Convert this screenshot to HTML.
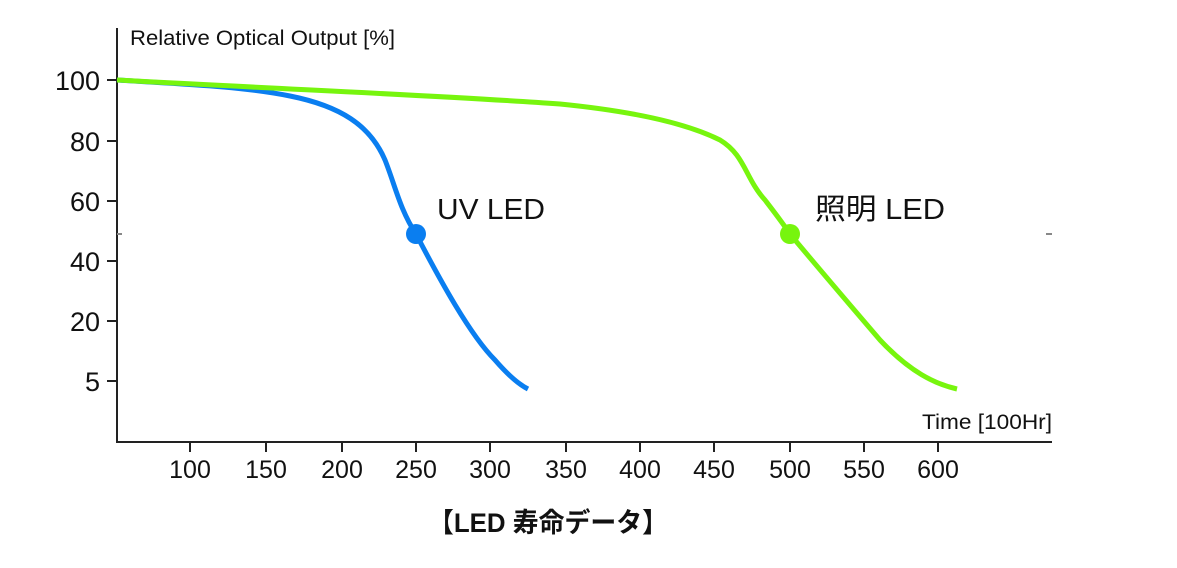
<!DOCTYPE html>
<html><head><meta charset="utf-8"><style>
html,body{margin:0;padding:0;background:#fff;width:1177px;height:568px;overflow:hidden}
text{font-family:"Liberation Sans","Noto Sans CJK JP",sans-serif;fill:#111}
</style></head><body>
<svg width="1177" height="568" viewBox="0 0 1177 568" xmlns="http://www.w3.org/2000/svg">
<g stroke="#222" stroke-width="2" fill="none">
<line x1="117" y1="28" x2="117" y2="443"/>
<line x1="116" y1="442" x2="1052" y2="442"/>
<line x1="107" y1="80" x2="117" y2="80"/>
<line x1="107" y1="141" x2="117" y2="141"/>
<line x1="107" y1="201" x2="117" y2="201"/>
<line x1="107" y1="261" x2="117" y2="261"/>
<line x1="107" y1="321" x2="117" y2="321"/>
<line x1="107" y1="381" x2="117" y2="381"/>
<line x1="117" y1="234" x2="122" y2="234" stroke="#888"/>
<line x1="1046" y1="234" x2="1052" y2="234" stroke="#888"/>
<line x1="190" y1="442" x2="190" y2="452"/>
<line x1="266" y1="442" x2="266" y2="452"/>
<line x1="342" y1="442" x2="342" y2="452"/>
<line x1="416" y1="442" x2="416" y2="452"/>
<line x1="490" y1="442" x2="490" y2="452"/>
<line x1="566" y1="442" x2="566" y2="452"/>
<line x1="640" y1="442" x2="640" y2="452"/>
<line x1="714" y1="442" x2="714" y2="452"/>
<line x1="790" y1="442" x2="790" y2="452"/>
<line x1="864" y1="442" x2="864" y2="452"/>
<line x1="938" y1="442" x2="938" y2="452"/>
</g>
<g font-size="27" text-anchor="end">
<text x="100" y="90">100</text>
<text x="100" y="151">80</text>
<text x="100" y="211">60</text>
<text x="100" y="271">40</text>
<text x="100" y="331">20</text>
<text x="100" y="391">5</text>
</g>
<g font-size="25" text-anchor="middle">
<text x="190" y="478">100</text>
<text x="266" y="478">150</text>
<text x="342" y="478">200</text>
<text x="416" y="478">250</text>
<text x="490" y="478">300</text>
<text x="566" y="478">350</text>
<text x="640" y="478">400</text>
<text x="714" y="478">450</text>
<text x="790" y="478">500</text>
<text x="864" y="478">550</text>
<text x="938" y="478">600</text>
</g>
<text x="130" y="45" font-size="21" textLength="265" lengthAdjust="spacingAndGlyphs">Relative Optical Output [%]</text>
<text x="922" y="429" font-size="21" textLength="130" lengthAdjust="spacingAndGlyphs">Time [100Hr]</text>
<path d="M117,80 C180,84 240,86 290,96 C340,106 370,125 385,160 C395,185 400,210 416,234 C440,280 470,335 495,360 C508,375 518,384 528,389" fill="none" stroke="#0a7ef0" stroke-width="5"/>
<path d="M117,80 C300,90 450,96 560,104 C640,112 690,125 720,140 C745,155 745,178 765,200 C775,213 782,222 790,234 C820,270 850,305 880,340 C910,372 935,384 957,389" fill="none" stroke="#77f50e" stroke-width="5"/>
<circle cx="416" cy="234" r="10" fill="#0a7ef0"/>
<circle cx="790" cy="234" r="10" fill="#77f50e"/>
<text x="437" y="219" font-size="29" textLength="108" lengthAdjust="spacingAndGlyphs">UV LED</text>
<text x="815" y="219" font-size="29" textLength="130" lengthAdjust="spacingAndGlyphs">照明 LED</text>
<text x="428" y="532" font-size="27" font-weight="bold" textLength="240" lengthAdjust="spacingAndGlyphs">【LED 寿命データ】</text>
</svg>
</body></html>
